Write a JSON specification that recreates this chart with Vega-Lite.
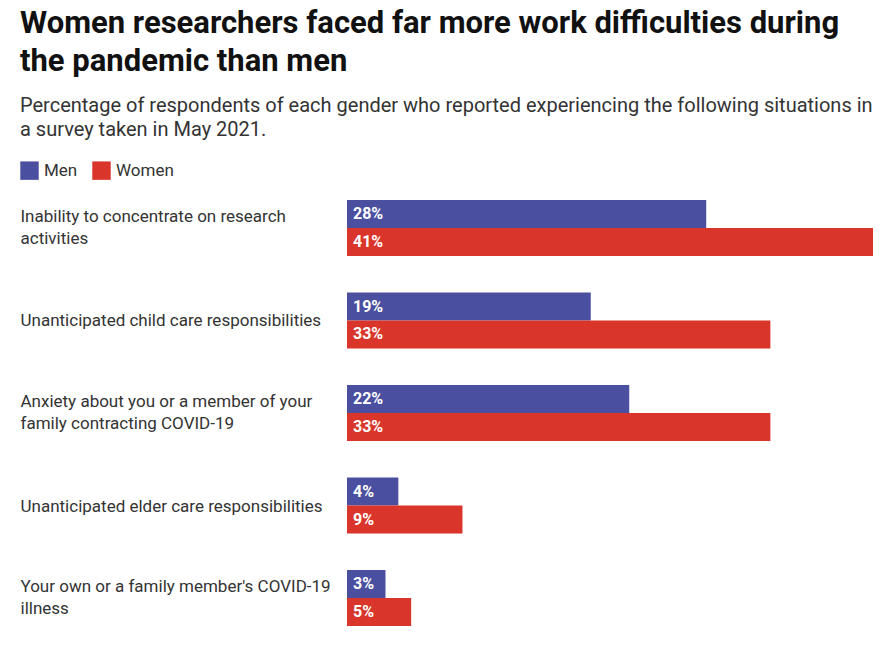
{
  "$schema": "https://vega.github.io/schema/vega-lite/v6.json",
  "width": 526,
  "height": 426,
  "padding": {"left": 20, "top": 8, "right": 10, "bottom": 10},
  "background": "white",
  "title": {
    "text": ["Women researchers faced far more work difficulties during", "the pandemic than men"],
    "subtitle": ["Percentage of respondents of each gender who reported experiencing the following situations in", "a survey taken in May 2021."],
    "anchor": "start",
    "frame": "bounds",
    "font": "Roboto",
    "fontSize": 31,
    "fontWeight": "bold",
    "color": "#111111",
    "lineHeight": 38,
    "subtitleFont": "Roboto",
    "subtitleFontSize": 20,
    "subtitleColor": "#333333",
    "subtitleLineHeight": 24,
    "subtitlePadding": 18,
    "offset": 20
  },
  "data": {
    "values": [
      {"situation": "Inability to concentrate on research|activities", "gender": "Men", "pct": 0.28},
      {"situation": "Inability to concentrate on research|activities", "gender": "Women", "pct": 0.41},
      {"situation": "Unanticipated child care responsibilities", "gender": "Men", "pct": 0.19},
      {"situation": "Unanticipated child care responsibilities", "gender": "Women", "pct": 0.33},
      {"situation": "Anxiety about you or a member of your|family contracting COVID-19", "gender": "Men", "pct": 0.22},
      {"situation": "Anxiety about you or a member of your|family contracting COVID-19", "gender": "Women", "pct": 0.33},
      {"situation": "Unanticipated elder care responsibilities", "gender": "Men", "pct": 0.04},
      {"situation": "Unanticipated elder care responsibilities", "gender": "Women", "pct": 0.09},
      {"situation": "Your own or a family member's COVID-19|illness", "gender": "Men", "pct": 0.03},
      {"situation": "Your own or a family member's COVID-19|illness", "gender": "Women", "pct": 0.05}
    ]
  },
  "encoding": {
    "y": {
      "field": "situation",
      "type": "nominal",
      "sort": null,
      "scale": {"paddingInner": 0.395, "paddingOuter": 0},
      "axis": {
        "title": null,
        "domain": false,
        "ticks": false,
        "labelAlign": "left",
        "labelPadding": 327,
        "labelFont": "Roboto",
        "labelFontSize": 17,
        "labelColor": "#333333",
        "labelLineHeight": 22,
        "labelLimit": 330,
        "labelOffset": {"condition": {"test": "indexof(datum.label, '|') >= 0", "value": -11}, "value": 1},
        "labelExpr": "split(datum.label, '|')"
      }
    },
    "yOffset": {"field": "gender", "type": "nominal", "sort": ["Men", "Women"], "scale": {"paddingInner": 0, "paddingOuter": 0}}
  },
  "layer": [
    {
      "mark": {"type": "bar"},
      "encoding": {
        "x": {"field": "pct", "type": "quantitative", "scale": {"domain": [0, 0.41], "nice": false}, "axis": null},
        "color": {
          "field": "gender",
          "type": "nominal",
          "scale": {"domain": ["Men", "Women"], "range": ["#4a4f9f", "#d9352b"]},
          "legend": {
            "title": null,
            "orient": "none",
            "legendX": -327,
            "legendY": -39,
            "direction": "horizontal",
            "symbolType": "square",
            "symbolSize": 340,
            "symbolStrokeWidth": 0,
            "labelFont": "Roboto",
            "labelFontSize": 17,
            "labelColor": "#333333",
            "labelOffset": 5,
            "columnPadding": 14
          }
        }
      }
    },
    {
      "mark": {"type": "text", "align": "left", "baseline": "middle", "dx": 6, "color": "white", "font": "Roboto", "fontWeight": "bold", "fontSize": 16},
      "encoding": {
        "x": {"datum": 0},
        "text": {"field": "pct", "type": "quantitative", "format": ".0%"}
      }
    }
  ],
  "config": {"view": {"stroke": null}}
}
